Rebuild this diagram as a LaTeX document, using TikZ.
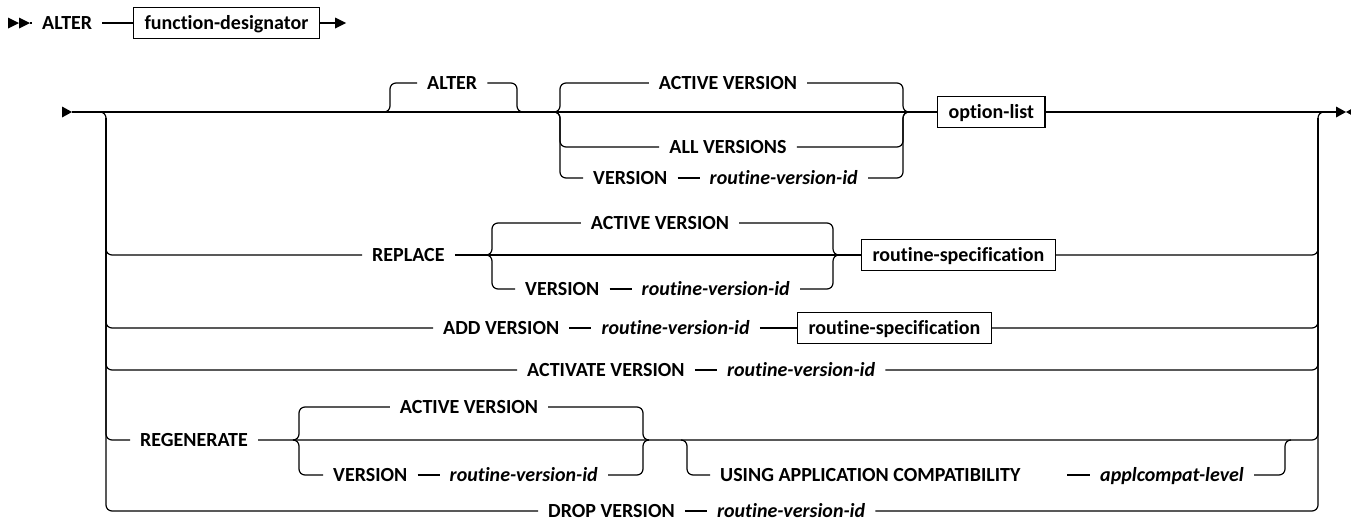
\documentclass[tikz,border=0pt]{standalone}
\usepackage{fontspec}
\setmainfont{Carlito}[Ligatures=NoCommon]
\usetikzlibrary{positioning}

\newcommand\railfont{\fontsize{20}{23}\selectfont\bfseries}

\tikzset{
  rail/.style={line width=1.2pt, rounded corners=6pt},
  kw/.style={font=\railfont, inner xsep=10pt, inner ysep=0pt, text height=12.9pt, text depth=0pt},
  var/.style={kw, font=\railfont\itshape},
  refbox/.style={draw, line width=1.2pt, font=\railfont, inner xsep=11pt, inner ysep=0pt, minimum height=31pt, text height=12.9pt, text depth=0pt}
}

\begin{document}
\begin{tikzpicture}[x=1pt, y=-1pt]
	\useasboundingbox (0,0) rectangle (1351,522);

	% first line
	\node[kw, anchor=west] (alter) at (32,23) {ALTER};
	\node[refbox, anchor=west] (fdes) at (133,23) {function-designator};
	\coordinate (s0) at (30,23);
	\coordinate (e0) at (335,23);
	\foreach \x in {8,19} {\fill (\x,23) -- ++(0,-5.5) -- ++(11,5.5) -- ++(-11,5.5) -- cycle;}
	\draw[rail] (s0) -- (alter.west);
	\draw[rail] (alter.east) -- (fdes.west);
	\draw[rail] (fdes.east) -- (e0);
	\fill (e0) -- ++(0,-5.5) -- ++(11,5.5) -- ++(-11,5.5) -- cycle;

	% main line
	\coordinate (st) at (72,112);
	\coordinate (fin) at (1336,112);
	\coordinate (lb) at (100,112);
	\coordinate (lbm) at (106,118);
	\coordinate (rb) at (1318,112);
	\coordinate (rbm) at (1318,118);
	\fill (62,112) -- ++(0,-5.5) -- ++(10,5.5) -- ++(-10,5.5) -- cycle;
	\node[refbox, anchor=west] (olist) at (937,112) {option-list};
	\draw[rail] (st) -- (olist.west);
	\draw[rail] (olist.east) -- (fin);
	\fill (fin) -- ++(0,-5.5) -- ++(10,5.5) -- ++(-10,5.5) -- cycle;
	\fill (1346,112) -- (1351,109.2) -- (1351,114.8) -- cycle;

	\coordinate (ab1) at (384,112);
	\coordinate (ab2) at (517,112);
	\node[kw, anchor=west] (alter2) at (417,83) {ALTER};
	\draw[rail] (ab1) -- ++(6,0) |- (alter2.west);
	\draw[rail] (alter2.east) -| (ab2) -- ++(6,0);

	\coordinate (ch1) at (554,112);
	\coordinate (ch1e) at (903,112);
	\node[kw] (actv1) at (728,83) {ACTIVE VERSION};
	\node[kw] (allv) at (728,147) {ALL VERSIONS};
	\node[kw, anchor=west] (ver1) at (583,178) {VERSION};
	\node[var, right=22pt of ver1] (rvid1) {routine-version-id};
	\draw[rail] (ver1) -- (rvid1);
	\foreach \n in {actv1,allv,ver1} {\draw[rail] (ch1) -- ++(6,0) |- (\n.west);}
	\foreach \n in {actv1,allv,rvid1} {\draw[rail] (\n.east) -| (ch1e) -- ++(6,0);}

	% REPLACE
	\node[kw, anchor=west] (repl) at (362,255) {REPLACE};
	\node[refbox, anchor=west] (rspec1) at (861,255) {routine-specification};
	\coordinate (ch2) at (486,255);
	\coordinate (ch2e) at (833,255);
	\node[kw] (actv2) at (660,223) {ACTIVE VERSION};
	\node[kw, anchor=west] (ver2) at (515,289) {VERSION};
	\node[var, right=22pt of ver2] (rvid2) {routine-version-id};
	\draw[rail] (lbm) |- (repl.west);
	\draw[rail] (repl.east) -- (rspec1.west);
	\draw[rail] (rspec1.east) -| (rbm);
	\draw[rail] (ver2) -- (rvid2);
	\foreach \n in {actv2,ver2} {\draw[rail] (ch2) -- ++(6,0) |- (\n.west);}
	\foreach \n in {actv2,rvid2} {\draw[rail] (\n.east) -| (ch2e) -- ++(6,0);}

	% ADD VERSION
	\node[kw, anchor=west] (addv) at (433,328) {ADD VERSION};
	\node[var, right=22pt of addv] (rvid3) {routine-version-id};
	\node[refbox, anchor=west] (rspec2) at (797,328) {routine-specification};
	\draw[rail] (lbm) |- (addv.west);
	\draw[rail] (addv) -- (rvid3);
	\draw[rail] (rvid3) -- (rspec2);
	\draw[rail] (rspec2.east) -| (rbm);

	% ACTIVATE VERSION
	\node[kw, anchor=west] (actvv) at (517,370) {ACTIVATE VERSION};
	\node[var, right=22pt of actvv] (rvid4) {routine-version-id};
	\draw[rail] (lbm) |- (actvv.west);
	\draw[rail] (actvv) -- (rvid4);
	\draw[rail] (rvid4.east) -| (rbm);

	% REGENERATE
	\node[kw, anchor=west] (regen) at (130,440) {REGENERATE};
	\coordinate (ch4) at (293,440);
	\coordinate (ch4e) at (643,440);
	\node[kw] (actv4) at (469,407) {ACTIVE VERSION};
	\node[kw, anchor=west] (ver4) at (323,475) {VERSION};
	\node[var, right=22pt of ver4] (rvid6) {routine-version-id};
	\draw[rail] (lbm) |- (regen.west);
	\draw[rail] (regen.east) -| (rbm);
	\draw[rail] (ver4) -- (rvid6);
	\foreach \n in {actv4,ver4} {\draw[rail] (ch4) -- ++(6,0) |- (\n.west);}
	\foreach \n in {actv4,rvid6} {\draw[rail] (\n.east) -| (ch4e) -- ++(6,0);}

	\coordinate (us) at (681,440);
	\coordinate (use) at (1285,440);
	\coordinate (ud) at (1067,475);
	\node[kw, anchor=west] (using) at (710,475) {USING APPLICATION COMPATIBILITY};
	\node[var, anchor=west] (acl) at (1090,475) {applcompat-level};
	\draw[rail] (us) -- ++(6,0) |- (using.west);
	\draw[rail] (ud) -- (acl);
	\draw[rail] (acl.east) -| (use) -- ++(6,0);

	% DROP VERSION
	\node[kw, anchor=west] (drop) at (538,511) {DROP VERSION};
	\node[var, right=22pt of drop] (rvid5) {routine-version-id};
	\draw[rail] (lb) -- ++(6,0) |- (drop.west);
	\draw[rail] (drop) -- (rvid5);
	\draw[rail] (rvid5.east) -| (rb) -- ++(6,0);
\end{tikzpicture}
\end{document}
